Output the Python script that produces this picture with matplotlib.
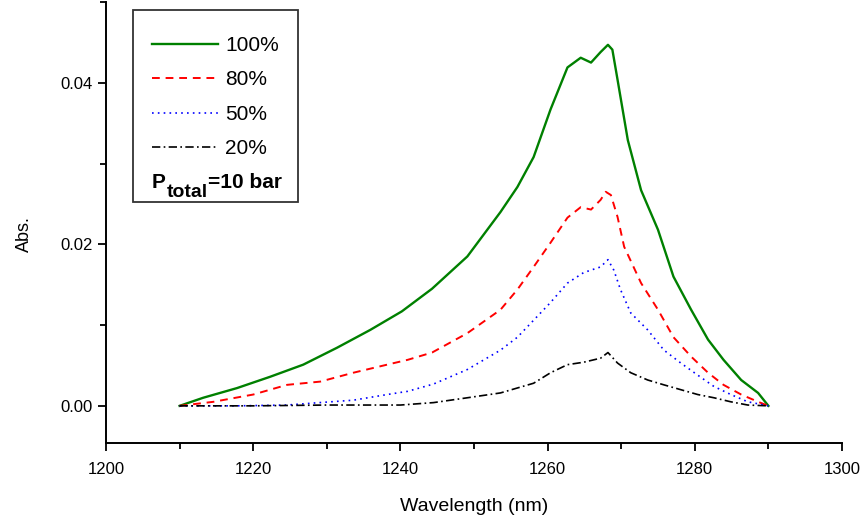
import matplotlib
matplotlib.use("Agg")
import matplotlib.pyplot as plt
from matplotlib.patches import Rectangle
from matplotlib.ticker import MultipleLocator

plt.rcParams['font.family'] = ['Liberation Sans', 'DejaVu Sans']

# values
wl_100 = [1210, 1213.2, 1217.8, 1222.3, 1226.8, 1231.4, 1235.9, 1240.2, 1244.3, 1249.1,
          1253.6, 1255.9, 1258.1, 1260.4, 1262.7, 1264.5, 1265.9, 1267.2, 1268.2, 1268.8,
          1269.5, 1270.9, 1272.7, 1275.0, 1277.1, 1279.5, 1281.8, 1283.9, 1286.3, 1288.6, 1290]
abs_100 = [0.0, 0.0010, 0.0022, 0.0036, 0.0051, 0.0072, 0.0094, 0.0117, 0.0145, 0.0185,
           0.0240, 0.0271, 0.0308, 0.0367, 0.0419, 0.0431, 0.0425, 0.0438, 0.0447, 0.0441,
           0.0404, 0.0329, 0.0267, 0.0218, 0.0160, 0.0119, 0.0082, 0.0057, 0.0032, 0.0016, 0.0]

wl_80 = [1210, 1214.6, 1220, 1224.6, 1229.1, 1233.6, 1238.2, 1241, 1244.3, 1249.1, 1253.6,
         1255.9, 1258.1, 1260.4, 1262.7, 1264.5, 1265.9, 1267.2, 1267.9, 1268.6, 1269.5,
         1270.4, 1272.7, 1275.0, 1277.1, 1279.5, 1281.8, 1283.9, 1286.3, 1288.6, 1290]
abs_80 = [0.0, 0.0005, 0.0014, 0.0026, 0.0030, 0.0041, 0.0051, 0.0057, 0.0066, 0.0090, 0.0119,
          0.0144, 0.0172, 0.0202, 0.0233, 0.0246, 0.0243, 0.0255, 0.0265, 0.0261, 0.0234,
          0.0197, 0.0152, 0.0119, 0.0085, 0.0061, 0.0041, 0.0026, 0.0014, 0.0005, 0.0]

wl_50 = [1210, 1217.8, 1224.6, 1229.0, 1233.6, 1238.2, 1241, 1244.5, 1249.1, 1253.6, 1255.9,
         1258.1, 1260.4, 1262.7, 1264.9, 1267.2, 1268.2, 1269.0, 1269.9, 1271.3, 1273.6,
         1275.8, 1278.1, 1280.4, 1282.6, 1284.9, 1287.2, 1290]
abs_50 = [0.0, 0.0, 0.0001, 0.0004, 0.0007, 0.0014, 0.0018, 0.0027, 0.0045, 0.0069, 0.0085,
          0.0106, 0.0128, 0.0152, 0.0165, 0.0172, 0.0181, 0.0168, 0.0144, 0.0115, 0.0094,
          0.0069, 0.0053, 0.0038, 0.0024, 0.0014, 0.0005, 0.0]

wl_20 = [1210, 1220, 1230, 1240, 1244.5, 1249.1, 1253.6, 1258.1, 1260.4, 1262.7, 1264.9,
         1267.2, 1268.2, 1269.5, 1271.3, 1273.6, 1275.8, 1278.1, 1280.4, 1282.6, 1284.9,
         1287.2, 1290]
abs_20 = [0.0, 0.0, 0.0001, 0.0001, 0.0004, 0.0010, 0.0016, 0.0028, 0.0041, 0.0051, 0.0054,
          0.0059, 0.0066, 0.0053, 0.0041, 0.0032, 0.0026, 0.0020, 0.0014, 0.0010, 0.0005,
          0.0001, 0.0]

W, H = 861, 528
fig = plt.figure(figsize=(W / 100, H / 100), dpi=100)
ax = fig.add_axes([106 / W, 1 - 443 / H, 736 / W, 441 / H])

ax.plot(wl_100, abs_100, color='#008000', lw=1.7, ls='-', label='100%')
ax.plot(wl_80, abs_80, color='#ff0000', lw=1.4, ls=(0, (4, 3)), label='80%')
ax.plot(wl_50, abs_50, color='#0000ff', lw=1.2, ls=(0, (1, 2.5)), label='50%')
ax.plot(wl_20, abs_20, color='black', lw=1.2, ls=(0, (5, 2, 1, 2)), label='20%')

ax.set_xlim(1200, 1300)
ax.set_ylim(-0.0046, 0.05)
ax.xaxis.set_major_locator(MultipleLocator(20))
ax.xaxis.set_minor_locator(MultipleLocator(10))
ax.yaxis.set_major_locator(MultipleLocator(0.02))
ax.yaxis.set_minor_locator(MultipleLocator(0.01))
ax.yaxis.set_major_formatter(plt.FormatStrFormatter('%.2f'))
ax.tick_params(which='both', direction='out', width=1.3, labelsize=12)
ax.tick_params(which='major', length=6)
ax.tick_params(which='minor', length=4)
ax.tick_params(axis='x', pad=8)

for s in ['top', 'right']:
    ax.spines[s].set_visible(False)
for s in ['left', 'bottom']:
    ax.spines[s].set_linewidth(1.4)

ax.set_xlabel('Wavelength (nm)', fontsize=14, labelpad=15)
ax.set_ylabel('Abs.', fontsize=13)
ax.yaxis.set_label_coords(-0.099, 0.474)

# legend box
fig.patches.append(Rectangle((133 / W, 1 - 202 / H), 165 / W, 192 / H,
                             transform=fig.transFigure, fill=False,
                             edgecolor='#333333', lw=1.3))
fig.legend(loc='upper left', bbox_to_anchor=(152 / W, 1 - 36 / H),
           frameon=False, fontsize=15, handlelength=3.15, handletextpad=0.35,
           labelspacing=0.74, borderpad=0, borderaxespad=0)
fig.text(152 / W, 1 - 188 / H, 'P', fontsize=15, fontweight='bold', va='baseline')
fig.text(167 / W, 1 - 197 / H, 'total', fontsize=14, fontweight='bold', va='baseline')
fig.text(208 / W, 1 - 188 / H, '=10 bar', fontsize=15, fontweight='bold', va='baseline')

fig.savefig('out.png', dpi=100)
